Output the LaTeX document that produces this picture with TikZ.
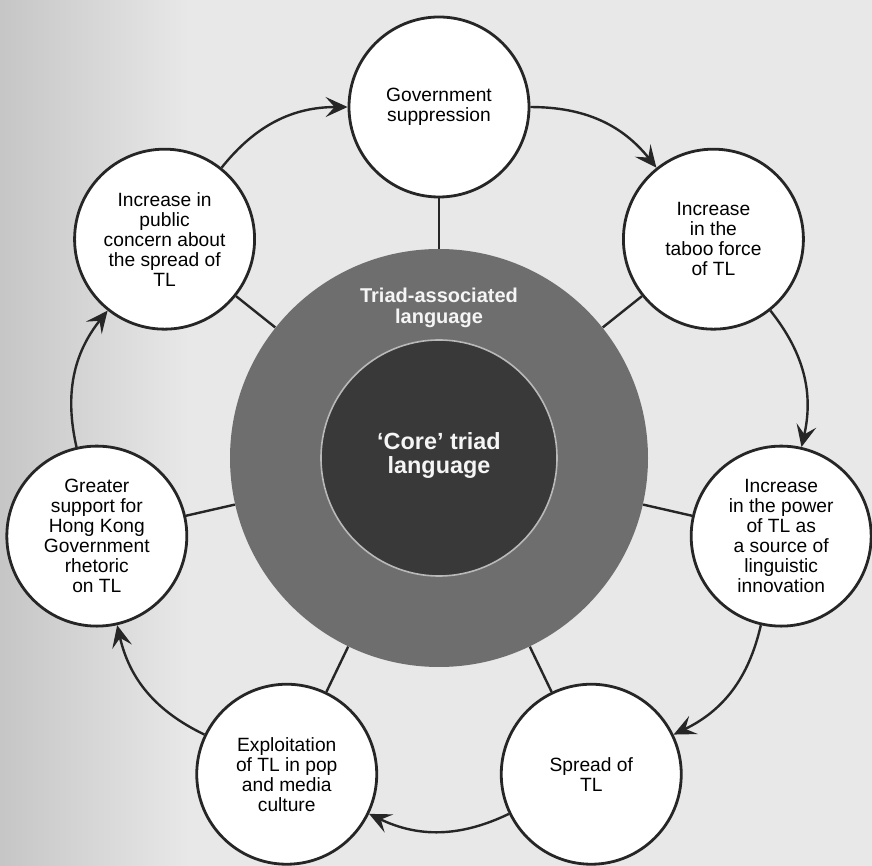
\documentclass[tikz,border=0pt]{standalone}
\usepackage{fontspec}
\setmainfont{Liberation Sans}
\usetikzlibrary{arrows.meta}
\definecolor{pagegray}{HTML}{E8E8E8}
\definecolor{ringgray}{HTML}{6E6E6E}
\definecolor{coregray}{HTML}{393939}
\tikzset{
	stage/.style={circle, draw=black!85, line width=1.4pt, fill=white, minimum size=90pt, inner sep=0pt, align=center, font=\fontsize{9.6}{10}\selectfont},
	spoke/.style={line width=1.2pt, draw=black!85},
	flow/.style={line width=1.2pt, draw=black!85, -{Stealth[length=11pt, width=10pt, inset=4.5pt]}, bend left=25.7},
	ringtext/.style={text=gray!8, align=center, font=\bfseries\fontsize{10}{10.5}\selectfont}
}

\begin{document}
\begin{tikzpicture}[x=0.5pt, y=0.5pt]
			%%%%% START %%%%%
			
			\useasboundingbox (-439, -408) rectangle (433, 458);
			\fill[pagegray] (-439, -408) rectangle (433, 458);
			\shade[left color=gray!45, right color=pagegray] (-439, -408) rectangle (-250, 458);
			
			\node[circle, fill=ringgray, minimum size=209pt] (triad) at (0, 0) {};
			\node[circle, fill=coregray, draw=gray!55, line width=0.8pt, minimum size=118pt] (core) at (0, 0) {};
			\node[ringtext] (triadlabel) at (0, 150) {Triad-associated\\language};
			\node[ringtext, font=\bfseries\fontsize{11.7}{12}\selectfont] (corelabel) at (0, 2) {`Core' triad\\language};
			
			\node[stage] (gov) at (90:351) {Government\\suppression};
			\node[stage] (taboo) at (38.57:351) {Increase\\in the\\taboo force\\of TL};
			\node[stage] (power) at (-12.86:351) {Increase\\in the power\\of TL as\\a source of\\linguistic\\innovation};
			\node[stage] (spread) at (-64.29:351) {Spread of\\TL};
			\node[stage] (media) at (-115.71:351) {Exploitation\\of TL in pop\\and media\\culture};
			\node[stage] (rhetoric) at (-167.14:351) {Greater\\support for\\Hong Kong\\Government\\rhetoric\\on TL};
			\node[stage] (concern) at (141.43:351) {Increase in\\public\\concern about\\the spread of\\TL};
			
			\draw[spoke] (gov) -- (triad);
			\draw[spoke] (taboo) -- (triad);
			\draw[spoke] (power) -- (triad);
			\draw[spoke] (spread) -- (triad);
			\draw[spoke] (media) -- (triad);
			\draw[spoke] (rhetoric) -- (triad);
			\draw[spoke] (concern) -- (triad);
			
			\draw[flow] (gov) to (taboo);
			\draw[flow] (taboo) to (power);
			\draw[flow] (power) to (spread);
			\draw[flow] (spread) to (media);
			\draw[flow] (media) to (rhetoric);
			\draw[flow] (rhetoric) to (concern);
			\draw[flow] (concern) to (gov);
			
			%%%%% END %%%%%
		\end{tikzpicture}
\end{document}
